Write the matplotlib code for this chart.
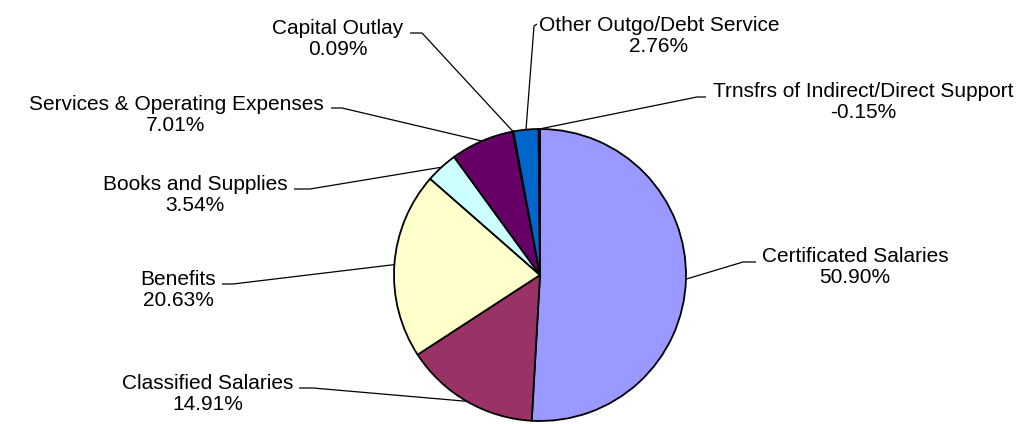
import numpy as np
import matplotlib.pyplot as plt

plt.rcParams['font.family'] = ['Liberation Sans', 'DejaVu Sans']

# budget shares (percent), clockwise from the top
categories = ["Certificated Salaries", "Classified Salaries", "Benefits",
              "Books and Supplies", "Services & Operating Expenses",
              "Capital Outlay", "Other Outgo/Debt Service",
              "Trnsfrs of Indirect/Direct Support"]
shares = [50.90, 14.91, 20.63, 3.54, 7.01, 0.09, 2.76, -0.15]
colors = ["#9999FF", "#993366", "#FFFFCC", "#CCFFFF", "#660066",
          "#FF8080", "#0066CC", "#CCCCFF"]

W, H = 1021, 424
cx, cy, R = 540, 275, 146   # pie centre / radius in image pixels

# label layout in image pixels: text centre, text-side end of leader, elbow
label_pos = [(855, 267), (208, 394), (178, 290), (195, 195),
             (176, 115), (338, 39), (659, 36), (863, 102)]
leader_end = [(756, 262), (299, 388), (222, 284), (294, 189),
              (331, 108), (410, 33), (537, 24), (706, 97)]
leader_elbow = [(743, 262), (313, 388), (233, 284), (310, 189),
                (342, 108), (422, 33), (534, 26), (697, 97)]

fig = plt.figure(figsize=(W / 100, H / 100), dpi=100)
ax = fig.add_axes([0, 0, 1, 1])

vals = np.abs(shares)
wedges, _ = ax.pie(vals, colors=colors, startangle=90, counterclock=False,
                   center=(cx, H - cy), radius=R,
                   wedgeprops=dict(edgecolor='black', linewidth=1.3))
ax.set_xlim(0, W)
ax.set_ylim(0, H)
ax.set_aspect('auto')
ax.set_axis_off()

# mid-angle of every wedge, for the leader anchors
frac = np.cumsum(vals) / vals.sum()
mid = np.concatenate([[0], frac[:-1]]) + (vals / vals.sum()) / 2
ang = np.deg2rad(90 - mid * 360)

for i, name in enumerate(categories):
    ax_x = cx + R * np.cos(ang[i])
    ax_y = (H - cy) + R * np.sin(ang[i])
    ex, ey = leader_end[i]
    bx, by = leader_elbow[i]
    ax.plot([ex, bx, ax_x], [H - ey, H - by, ax_y], color='black', lw=0.9,
            solid_capstyle='butt', zorder=3)
    tx, ty = label_pos[i]
    ax.text(tx, H - ty, f"{name}\n{shares[i]:.2f}%", ha='center', va='center',
            multialignment='center', fontsize=15, linespacing=1.12,
            color='black')

fig.savefig("out.png", dpi=100)
